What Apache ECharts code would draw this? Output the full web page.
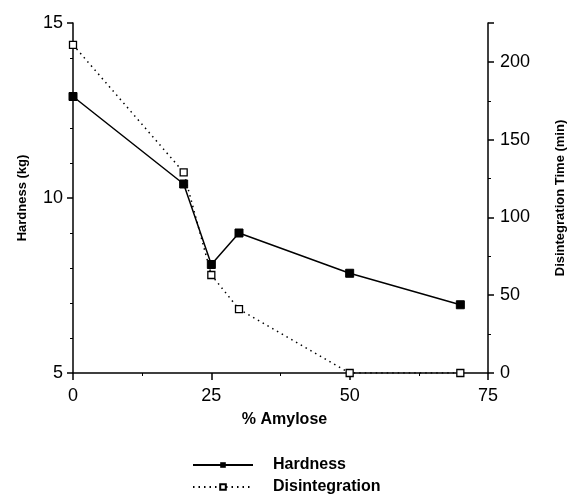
<!DOCTYPE html>
<html>
<head>
<meta charset="utf-8">
<script src="https://cdn.jsdelivr.net/npm/echarts@6/dist/echarts.min.js"></script>
<style>
    html, body { margin: 0; padding: 0; background: #fff; }
    #chart { width: 575px; height: 496px; }
</style>
</head>
<body>
<div id="chart"></div>
<script>
// 数据
var amylose = [0, 20, 25, 30, 50, 70];
var hardness = [12.9, 10.4, 8.1, 9.0, 7.85, 6.95];
var disintegration = [211, 129, 63, 41, 0, 0];
var xTicks = [0, 25, 50, 75];

var font = 'Liberation Sans, Arial, sans-serif';

function pairs(xs, ys) {
    var out = [];
    for (var i = 0; i < xs.length; i++) {
        out.push([xs[i], ys[i]]);
    }
    return out;
}

var myChart = echarts.init(document.getElementById('chart'));
var option = {
    backgroundColor: '#fff',
    animation: false,
    textStyle: { fontFamily: font, color: '#000' },
    grid: {
        left: 73,
        right: 83,
        top: 23,
        bottom: 123
    },
    legend: {
        orient: 'vertical',
        left: 192,
        top: 456,
        height: 44,
        padding: 0,
        itemWidth: 60,
        itemHeight: 7,
        itemGap: 4,
        textStyle: {
            fontFamily: font, fontSize: 16, fontWeight: 'bold', color: '#000',
            lineHeight: 18, padding: [0, 0, 0, 15]
        },
        data: ['Hardness', 'Disintegration']
    },
    xAxis: {
        type: 'value',
        min: xTicks[0],
        max: xTicks[xTicks.length - 1],
        interval: 25,
        name: '% Amylose',
        nameLocation: 'middle',
        nameGap: 39,
        nameTextStyle: { fontFamily: font, fontSize: 16, fontWeight: 'bold', color: '#000', padding: [0, 0, 0, 8] },
        axisLine: { lineStyle: { color: '#000', width: 1.5 } },
        axisTick: { show: true, length: 7, lineStyle: { color: '#000', width: 1.5 } },
        minorTick: { show: true, splitNumber: 2, length: 3, lineStyle: { color: '#000' } },
        axisLabel: { fontFamily: font, fontSize: 18, color: '#000', margin: 14 },
        splitLine: { show: false }
    },
    yAxis: [
        {
            type: 'value',
            min: 5,
            max: 15,
            interval: 5,
            name: 'Hardness (kg)',
            nameLocation: 'middle',
            nameGap: 44,
            nameTextStyle: { fontFamily: font, fontSize: 13, fontWeight: 'bold', color: '#000' },
            axisLine: { show: true, lineStyle: { color: '#000', width: 1.5 } },
            axisTick: { show: true, length: 6, lineStyle: { color: '#000', width: 1.5 } },
            minorTick: { show: true, splitNumber: 5, length: 3, lineStyle: { color: '#000' } },
            axisLabel: { fontFamily: font, fontSize: 18, color: '#000', margin: 10 },
            splitLine: { show: false }
        },
        {
            type: 'value',
            min: 0,
            max: 225,
            interval: 50,
            position: 'right',
            name: 'Disintegration Time (min)',
            nameLocation: 'middle',
            nameGap: 66,
            nameRotate: 90,
            nameTextStyle: { fontFamily: font, fontSize: 13, fontWeight: 'bold', color: '#000' },
            axisLine: { show: true, lineStyle: { color: '#000', width: 1.5 } },
            axisTick: { show: true, length: 6, lineStyle: { color: '#000', width: 1.5 } },
            minorTick: { show: true, splitNumber: 2, length: 3, lineStyle: { color: '#000' } },
            axisLabel: { fontFamily: font, fontSize: 18, color: '#000', margin: 12, showMaxLabel: false },
            splitLine: { show: false }
        }
    ],
    series: [
        {
            name: 'Hardness',
            type: 'line',
            yAxisIndex: 0,
            data: pairs(amylose, hardness),
            symbol: 'rect',
            symbolSize: 8,
            lineStyle: { color: '#000', width: 1.5, type: 'solid' },
            itemStyle: { color: '#000', borderColor: '#000' },
            z: 3
        },
        {
            name: 'Disintegration',
            type: 'line',
            yAxisIndex: 1,
            data: pairs(amylose, disintegration),
            symbol: 'rect',
            symbolSize: 7,
            lineStyle: { color: '#000', width: 1.5, type: [1.5, 4] },
            itemStyle: { color: '#fff', borderColor: '#000', borderWidth: 1.3 },
            z: 2
        }
    ]
};
myChart.setOption(option);
</script>
</body>
</html>
